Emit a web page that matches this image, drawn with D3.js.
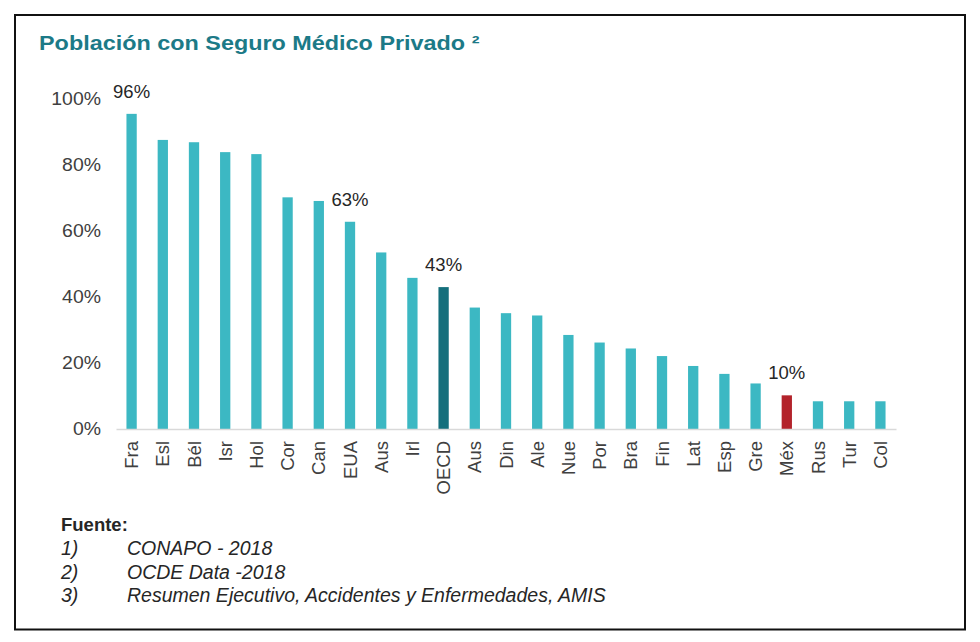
<!DOCTYPE html>
<html lang="es">
<head>
    <meta charset="UTF-8">
    <title>Población con Seguro Médico Privado</title>
    <script src="https://d3js.org/d3.v7.min.js"></script>
    <style>
        body { margin: 0; background: #fff; }
        text { font-family: "Liberation Sans", Arial, sans-serif; }
    </style>
</head>
<body>
    <div id="chart"></div>

    <script>
        // Data
        const countries = ["Fra", "Esl", "Bél", "Isr", "Hol", "Cor", "Can", "EUA", "Aus", "Irl", "OECD", "Aus",
                           "Din", "Ale", "Nue", "Por", "Bra", "Fin", "Lat", "Esp", "Gre", "Méx", "Rus", "Tur", "Col"];
        const values = [95.5, 87.6, 86.9, 83.9, 83.3, 70.2, 69.1, 62.8, 53.5, 45.8, 43, 36.8,
                        35.1, 34.4, 28.5, 26.2, 24.4, 22.1, 19.1, 16.7, 13.8, 10.2, 8.4, 8.4, 8.4];
        const labelled = ["Fra", "EUA", "OECD", "Méx"];
        const yTicks = [0, 20, 40, 60, 80, 100];
        const title = "Población con Seguro Médico Privado ²";
        const sourceHead = "Fuente:";
        const sourceNums = ["1)", "2)", "3)"];
        const sourceTexts = ["CONAPO - 2018", "OCDE Data -2018", "Resumen Ejecutivo, Accidentes y Enfermedades, AMIS"];

        const W = 980, H = 642;
        const data = countries.map((c, i) => ({ i, name: c, value: values[i] }));

        const svg = d3.select("#chart")
            .append("svg")
            .attr("width", W)
            .attr("height", H);

        // frame
        svg.append("rect")
            .attr("x", 15).attr("y", 15)
            .attr("width", 950).attr("height", 614.5)
            .attr("fill", "none")
            .attr("stroke", "#111")
            .attr("stroke-width", 2);

        // title
        svg.append("text")
            .attr("transform", "translate(39,50) scale(1.17,1)")
            .attr("font-size", 20)
            .attr("font-weight", "bold")
            .attr("fill", "#1c7a87")
            .text(title);

        const x = d3.scaleBand()
            .domain(data.map(d => d.i))
            .range([116, 896])
            .paddingInner(0.67)
            .paddingOuter(0.335);

        const y = d3.scaleLinear()
            .domain([0, 100])
            .range([429, 99]);

        // y tick labels (no axis line in the original)
        svg.append("g")
            .selectAll("text")
            .data(yTicks)
            .join("text")
            .attr("transform", d => `translate(101,${y(d)}) scale(1.08,1)`)
            .attr("dy", "0.36em")
            .attr("text-anchor", "end")
            .attr("font-size", 18)
            .attr("fill", "#404040")
            .text(d => d + "%");

        // bars
        const barColor = d => d.name === "OECD" ? "#146f7c" : d.name === "Méx" ? "#b3232b" : "#3cb8c3";
        svg.append("g")
            .selectAll("rect")
            .data(data)
            .join("rect")
            .attr("x", d => x(d.i))
            .attr("y", d => y(d.value))
            .attr("width", x.bandwidth())
            .attr("height", d => y(0) - y(d.value))
            .attr("fill", barColor);

        // x axis
        const xAxis = svg.append("g")
            .attr("transform", `translate(0,${y(0)})`)
            .call(d3.axisBottom(x).tickSize(0).tickFormat(i => countries[i]));
        xAxis.select(".domain").attr("stroke", "#d9d9d9").attr("stroke-width", 1.5);
        xAxis.selectAll("text")
            .attr("transform", "rotate(-90)")
            .attr("text-anchor", "end")
            .attr("x", -12)
            .attr("y", 0)
            .attr("dy", "0.36em")
            .attr("font-family", "'Liberation Sans', Arial, sans-serif")
            .attr("font-size", 18.5)
            .attr("fill", "#404040");

        // data labels
        svg.append("g")
            .selectAll("text")
            .data(data.filter(d => labelled.includes(d.name)))
            .join("text")
            .attr("x", d => x(d.i) + x.bandwidth() / 2)
            .attr("y", d => y(d.value) - 16)
            .attr("text-anchor", "middle")
            .attr("font-size", 18.5)
            .attr("fill", "#262626")
            .text(d => Math.round(d.value) + "%");

        // sources
        svg.append("text")
            .attr("x", 61).attr("y", 531)
            .attr("font-size", 18.5)
            .attr("font-weight", "bold")
            .attr("fill", "#262626")
            .text(sourceHead);

        const src = svg.append("g").attr("font-style", "italic").attr("font-size", 19.5).attr("fill", "#262626");
        src.selectAll("text.num")
            .data(sourceNums)
            .join("text")
            .attr("class", "num")
            .attr("x", 61)
            .attr("y", (d, i) => 555 + i * 23.5)
            .text(d => d);
        src.selectAll("text.src")
            .data(sourceTexts)
            .join("text")
            .attr("class", "src")
            .attr("x", 127)
            .attr("y", (d, i) => 555 + i * 23.5)
            .text(d => d);
    </script>
</body>
</html>
